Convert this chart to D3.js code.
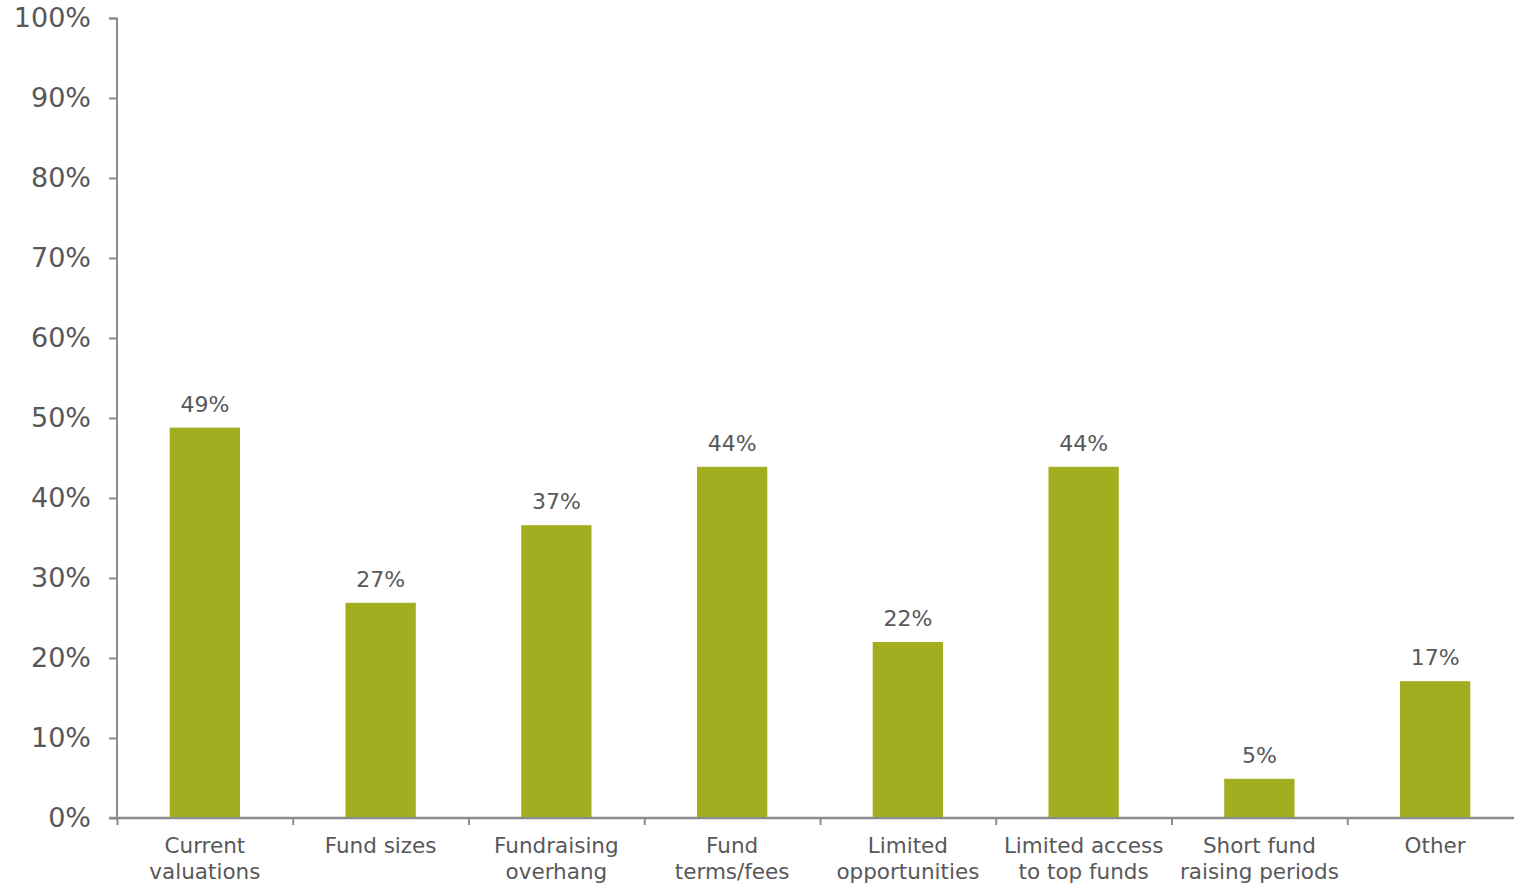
<!DOCTYPE html>
<html><head><meta charset="utf-8">
<script src="https://cdn.jsdelivr.net/npm/d3@7"></script>
<style>body{margin:0;background:#fff}</style>
</head><body>
<svg id="c" width="1514" height="886"></svg>
<script>
const categories = [["Current","valuations"],["Fund sizes"],["Fundraising","overhang"],["Fund","terms/fees"],["Limited","opportunities"],["Limited access","to top funds"],["Short fund","raising periods"],["Other"]];
const values = [0.488, 0.269, 0.366, 0.439, 0.22, 0.439, 0.049, 0.171];
const yTicks = [0,0.1,0.2,0.3,0.4,0.5,0.6,0.7,0.8,0.9,1.0];

const svg = d3.select("#c");
const font = "DejaVu Sans, Verdana, sans-serif";
const x = d3.scaleBand().domain(d3.range(categories.length)).range([117, 1523]).paddingInner(0.6).paddingOuter(0.3);
const y = d3.scaleLinear().domain([0,1]).range([818, 18]);
const fmt = d3.format(".0%");

// y axis
const ya = svg.append("g").attr("transform","translate(117,0)")
  .call(d3.axisLeft(y).tickValues(yTicks).tickFormat(fmt).tickSize(8).tickPadding(18));
ya.select(".domain").attr("stroke","#8c8c8c").attr("stroke-width",2).attr("d","M-8,18.5H0V818");
ya.selectAll(".tick line").attr("stroke","#8c8c8c").attr("stroke-width",2);
ya.selectAll(".tick text").attr("fill","#58585a").style("font-family",font).style("font-size","27px").attr("dy","0.33em");

// x axis
const xb = d3.scaleLinear().domain([0,categories.length]).range([117,1523]);
const xa = svg.append("g").attr("transform","translate(0,818)")
  .call(d3.axisBottom(xb).tickValues(d3.range(categories.length+1)).tickFormat("").tickSize(7));
xa.select(".domain").attr("stroke","#8c8c8c").attr("stroke-width",2.5).attr("d","M109,0H1523");
xa.selectAll(".tick line").attr("stroke","#8c8c8c").attr("stroke-width",2);

// bars
svg.append("g").selectAll("rect").data(values).join("rect")
  .attr("x",(d,i)=>x(i)).attr("width",x.bandwidth())
  .attr("y",d=>y(d)).attr("height",d=>y(0)-y(d)-1)
  .attr("fill","#a2ad1f");

// value labels
svg.append("g").selectAll("text").data(values).join("text")
  .attr("x",(d,i)=>x(i)+x.bandwidth()/2).attr("y",d=>y(d)-16)
  .attr("text-anchor","middle").attr("fill","#58585a")
  .style("font-family",font).style("font-size","22px")
  .text(d=>fmt(d));

// category labels
const cl = svg.append("g").selectAll("text").data(categories).join("text")
  .attr("text-anchor","middle").attr("fill","#58585a")
  .style("font-family",font).style("font-size","21.5px")
  .attr("transform",(d,i)=>`translate(${x(i)+x.bandwidth()/2},853)`);
cl.selectAll("tspan").data(d=>d).join("tspan")
  .attr("x",0).attr("dy",(d,j)=>j===0?0:26).text(d=>d);
</script>
</body></html>
